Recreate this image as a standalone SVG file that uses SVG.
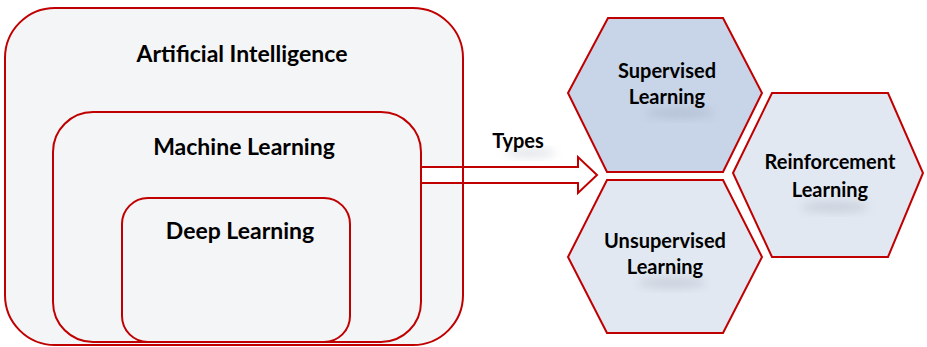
<svg xmlns="http://www.w3.org/2000/svg" width="927" height="347" viewBox="0 0 927 347">
  <style>
    .box { stroke: #c00000; stroke-width: 2; }
    .hex { stroke: #c00000; stroke-width: 2; stroke-linejoin: miter; }
    .lbl { font-family: Lato, "Open Sans", "Liberation Sans", sans-serif; font-weight: bold; fill: #000; text-anchor: middle; }
    .big { font-size: 23px; }
    .mid { font-size: 20px; }
    .smudge { fill: #7a8699; opacity: 0.25; filter: url(#soft); }
  </style>
  <defs>
    <filter id="soft" x="-50%" y="-50%" width="200%" height="200%">
      <feGaussianBlur stdDeviation="5"/>
    </filter>
  </defs>

  <rect width="927" height="347" fill="#ffffff"/>

  <!-- nested sets -->
  <g id="ai">
    <rect class="box" x="5" y="8" width="458" height="337" rx="50" ry="50" fill="#f4f5f7"/>
    <text class="lbl big" x="242" y="62">Artificial Intelligence</text>
  </g>
  <g id="ml">
    <rect class="box" x="53" y="112" width="368" height="230" rx="40" ry="40" fill="#f4f5f7"/>
    <text class="lbl big" x="244" y="155">Machine Learning</text>
  </g>
  <g id="dl">
    <rect class="box" x="122" y="198" width="228" height="144" rx="26" ry="26" fill="#f4f5f7"/>
    <text class="lbl big" x="240" y="239">Deep Learning</text>
  </g>

  <!-- hollow arrow from Machine Learning to its types -->
  <g id="connectors">
    <polygon points="421,167 578,167 578,157 597,175 578,193 578,183 421,183" fill="#ffffff" stroke="#c00000" stroke-width="2" stroke-linejoin="miter"/>
    <line x1="463" y1="160" x2="463" y2="190" stroke="#c00000" stroke-width="2"/>
    <ellipse class="smudge" cx="530" cy="153" rx="26" ry="4"/>
    <text class="lbl mid" x="518" y="148">Types</text>
  </g>

  <!-- learning types -->
  <g id="supervised">
    <polygon class="hex" points="568,93 608,18 723,18 762,93 723,172 607,172" fill="#c8d4e7"/>
    <ellipse class="smudge" cx="680" cy="113" rx="34" ry="5"/>
    <text class="lbl mid" x="667" y="78">Supervised</text>
    <text class="lbl mid" x="667" y="104">Learning</text>
  </g>
  <g id="reinforcement">
    <polygon class="hex" points="733,173 772,93 888,93 923,173 888,257 772,257" fill="#e2e8f1"/>
    <ellipse class="smudge" cx="835" cy="207" rx="34" ry="5"/>
    <text class="lbl mid" x="830" y="169">Reinforcement</text>
    <text class="lbl mid" x="830" y="197">Learning</text>
  </g>
  <g id="unsupervised">
    <polygon class="hex" points="568,257 607,180 723,180 762,257 723,333 607,333" fill="#e2e8f1"/>
    <ellipse class="smudge" cx="672" cy="283" rx="34" ry="5"/>
    <text class="lbl mid" x="665" y="248">Unsupervised</text>
    <text class="lbl mid" x="665" y="274">Learning</text>
  </g>
</svg>
